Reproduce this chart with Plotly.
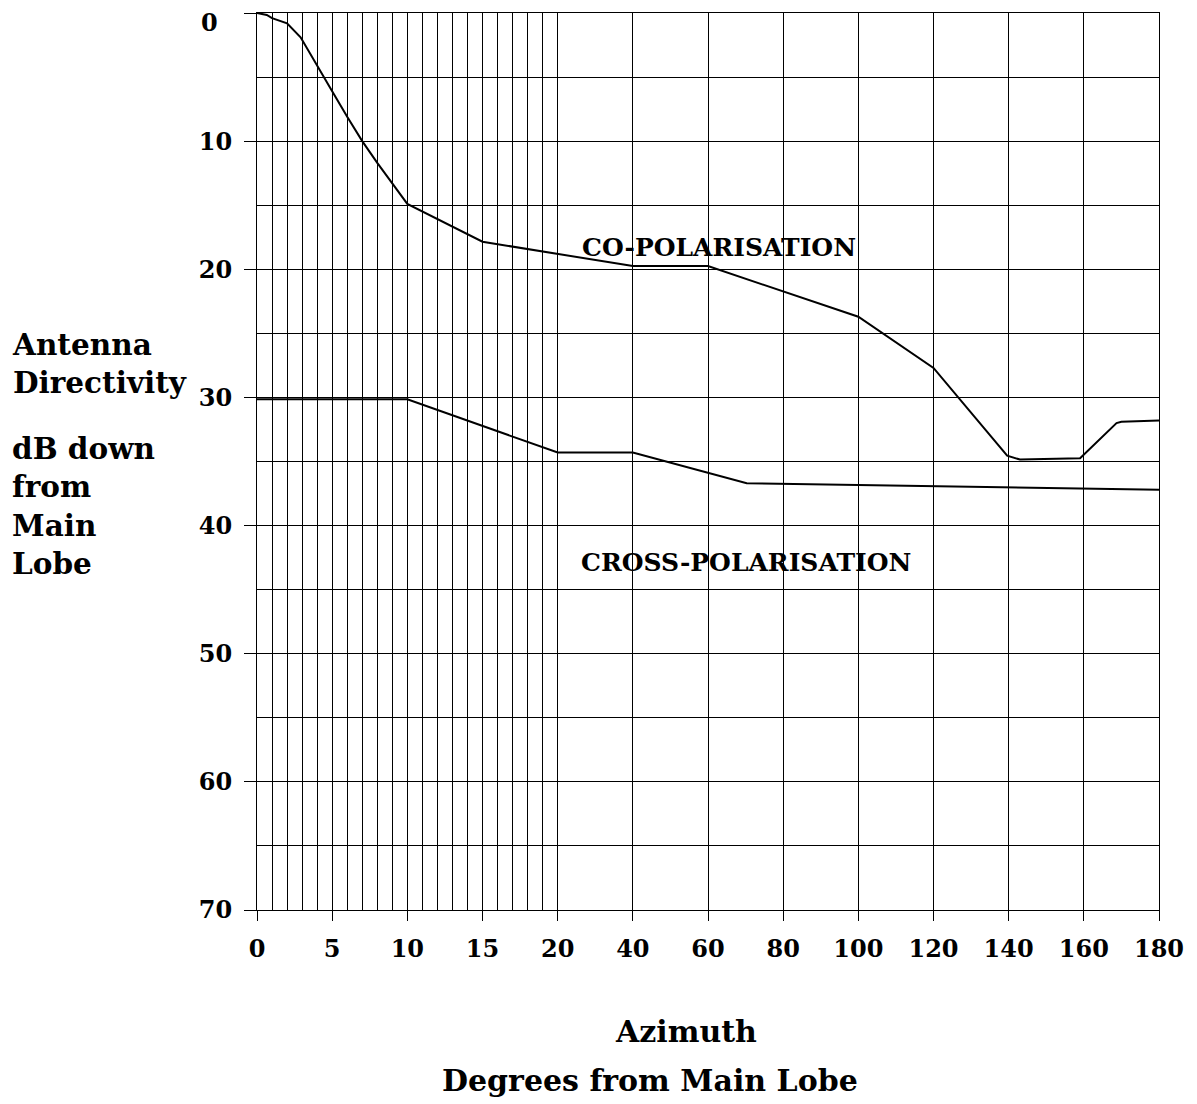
import plotly.graph_objects as go

# ---- data (degrees from main lobe, dB down) ----
co_deg = [0, 0.65, 1, 2, 2.9, 4, 5, 6, 7, 8, 9, 10, 15, 40, 60, 100, 120, 139.6, 143, 159, 168.7, 170, 180]
co_db = [0, 0.15, 0.4, 0.8, 1.9, 4.05, 6.1, 8.1, 10.0, 11.7, 13.3, 14.9, 17.85, 19.75, 19.75,
         23.7, 27.7, 34.55, 34.85, 34.75, 32.0, 31.9, 31.8]
cross_deg = [0, 10, 20, 40, 70.3, 180]
cross_db = [30.15, 30.15, 34.3, 34.3, 36.7, 37.2]

x_tick_deg = [0, 5, 10, 15, 20, 40, 60, 80, 100, 120, 140, 160, 180]
x_grid_deg = list(range(0, 21)) + [40, 60, 80, 100, 120, 140, 160, 180]
y_tick_db = [0, 10, 20, 30, 40, 50, 60, 70]

FONT = "DejaVu Serif"


def scale(d):
    """Piecewise azimuth scale: 0-20 deg expanded, 20-180 deg compressed by 4."""
    return d if d <= 20 else 20 + (d - 20) / 4.0


tick_font = dict(family=FONT, size=24, color="black", weight="bold")

fig = go.Figure()
fig.add_trace(go.Scatter(x=[scale(d) for d in co_deg], y=co_db, mode="lines",
                         line=dict(color="black", width=2), showlegend=False))
fig.add_trace(go.Scatter(x=[scale(d) for d in cross_deg], y=cross_db, mode="lines",
                         line=dict(color="black", width=2), showlegend=False))

fig.update_layout(
    width=1189, height=1096,
    margin=dict(l=249, r=38, t=5, b=194, autoexpand=False),
    paper_bgcolor="white", plot_bgcolor="white",
    font=dict(family=FONT, color="black"),
    xaxis=dict(
        range=[0, scale(180)],
        automargin=False,
        tickmode="array",
        tickvals=[scale(d) for d in x_tick_deg],
        ticktext=[str(d) for d in x_tick_deg],
        ticks="outside", ticklen=10, tickcolor="black", tickwidth=1,
        ticklabelstandoff=7, ticklabeloverflow="allow",
        tickfont=tick_font,
        showgrid=True, gridcolor="black", gridwidth=1,
        minor=dict(tickmode="array", tickvals=[scale(d) for d in x_grid_deg],
                   showgrid=True, gridcolor="black", gridwidth=1, ticks=""),
        showline=True, linecolor="black", linewidth=1, mirror=True,
        zeroline=False,
    ),
    yaxis=dict(
        range=[70, 0],
        automargin=False,
        tickmode="array",
        tickvals=y_tick_db,
        # the top "0" label is placed as an annotation (shifted down like the reference)
        ticktext=[("" if v == 0 else str(v)) for v in y_tick_db],
        ticks="outside", ticklen=12, tickcolor="black", tickwidth=1,
        ticklabelstandoff=7,
        tickfont=tick_font,
        showgrid=True, gridcolor="black", gridwidth=1,
        minor=dict(dtick=5, showgrid=True, gridcolor="black", gridwidth=1, ticks=""),
        showline=True, linecolor="black", linewidth=1, mirror=True,
        zeroline=False,
    ),
)

fig.add_annotation(text=str(y_tick_db[0]), x=-0.0643, y=y_tick_db[0], xref="paper", yref="y",
                   showarrow=False, font=tick_font, xanchor="left", yanchor="middle", yshift=-9)

title_font = dict(family=FONT, size=29.5, color="black", weight="bold")
bottom_font = dict(family=FONT, size=30, color="black", weight="bold")
label_font = dict(family=FONT, size=25, color="black", weight="bold")

fig.add_annotation(text="CO-POLARISATION", x=scale(63), y=18.27, xref="x", yref="y",
                   showarrow=False, font=label_font, xanchor="center", yanchor="middle")
fig.add_annotation(text="CROSS-POLARISATION", x=scale(70.1), y=42.86, xref="x", yref="y",
                   showarrow=False, font=label_font, xanchor="center", yanchor="middle")

fig.add_annotation(text="Antenna<br>Directivity", x=-0.2738, y=0.6098, xref="paper", yref="paper",
                   showarrow=False, font=title_font, xanchor="left", yanchor="middle", align="left")
fig.add_annotation(text="dB down<br>from<br>Main<br>Lobe", x=-0.2738, y=0.4504, xref="paper", yref="paper",
                   showarrow=False, font=title_font, xanchor="left", yanchor="middle", align="left")

fig.add_annotation(text="Azimuth", x=0.4756, y=-0.1349, xref="paper", yref="paper",
                   showarrow=False, font=bottom_font, xanchor="center", yanchor="middle")
fig.add_annotation(text="Degrees from Main Lobe", x=0.4357, y=-0.1906, xref="paper", yref="paper",
                   showarrow=False, font=bottom_font, xanchor="center", yanchor="middle")

fig.write_html("out.html")
